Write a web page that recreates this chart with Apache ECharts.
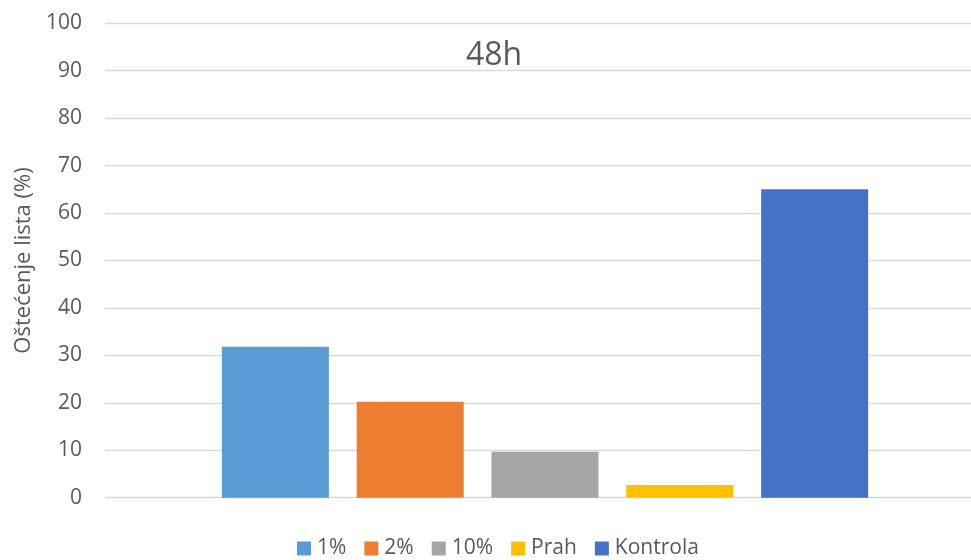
<!DOCTYPE html>
<html>
<head>
<meta charset="utf-8">
<script src="https://cdn.jsdelivr.net/npm/echarts@6/dist/echarts.min.js"></script>
<style>html,body{margin:0;padding:0;background:#fff}#c{width:971px;height:560px}</style>
</head>
<body>
<div id="c"></div>
<script>
var categories = ['48h'];
var seriesNames = ['1%', '2%', '10%', 'Prah', 'Kontrola'];
var values1 = [31.8];
var values2 = [20.2];
var values10 = [9.7];
var valuesPrah = [2.7];
var valuesKontrola = [65.0];
var yTicks = [0, 10, 20, 30, 40, 50, 60, 70, 80, 90, 100];

var colors = ['#5B9BD5', '#ED7D31', '#A5A5A5', '#FFC000', '#4472C4'];
var allValues = [values1, values2, values10, valuesPrah, valuesKontrola];
var font = '"Open Sans", sans-serif';

var chart = echarts.init(document.getElementById('c'));
chart.setOption({
  animation: false,
  color: colors,
  title: {
    text: '48h', left: 489, top: 35, textAlign: 'center',
    textStyle: { fontFamily: font, fontSize: 32, fontWeight: 'normal', color: '#595959' }
  },
  legend: {
    bottom: -4, left: 292, itemWidth: 14, itemHeight: 14, itemGap: 18,
    icon: 'rect',
    textStyle: { fontFamily: font, fontSize: 21, color: '#595959', padding: [0, 0, 0, 1] },
    data: seriesNames
  },
  grid: { left: 105, width: 880, top: 23.3, bottom: 62.3, outerBoundsMode: 'none' },
  xAxis: {
    type: 'category', data: categories,
    axisLine: { show: false }, axisTick: { show: false }, axisLabel: { show: false }
  },
  yAxis: {
    type: 'value', min: yTicks[0], max: yTicks[yTicks.length - 1], interval: 10,
    name: 'Oštećenje lista (%)', nameLocation: 'middle', nameGap: 66,
    nameTextStyle: { fontFamily: font, fontSize: 22, color: '#595959' },
    axisLine: { show: false }, axisTick: { show: false },
    axisLabel: { fontFamily: font, fontSize: 21, color: '#595959', margin: 23 },
    splitLine: { lineStyle: { color: '#d9d9d9', width: 1.3 } }
  },
  series: seriesNames.map(function (n, i) {
    return { name: n, type: 'bar', data: allValues[i], barWidth: 107, barGap: '26%' };
  })
});
</script>
</body>
</html>
